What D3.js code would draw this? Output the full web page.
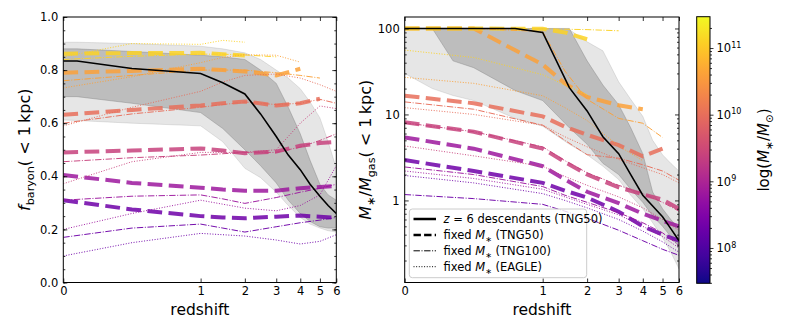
<!DOCTYPE html>
<html>
<head>
<meta charset="utf-8">
<script src="https://cdn.jsdelivr.net/npm/d3@7"></script>
<style>
body { margin: 0; background: #fff; }
text { font-family: "DejaVu Sans", sans-serif; }
</style>
</head>
<body>
<div id="chart"></div>
<script>
// DATA ***********************************************
var zTicks = [0, 1, 2, 3, 4, 5, 6];
var fbTicks = [0, 0.2, 0.4, 0.6, 0.8, 1.0];
var mgTicks = [1, 10, 100];
var cbTicks = [8, 9, 10, 11];

// log M* of the fixed-mass tracks (low to high)
var massBins = [8.3, 8.8, 9.4, 10.0, 10.6, 11.1];

// redshifts of the fixed-mass tracks
var zGrid = [0, 0.5, 1, 1.5, 2, 3, 4, 5, 6];

// f_baryon(<1kpc), one row per mass bin
var fbTNG50 = [
  [0.31, 0.275, 0.25, 0.245, 0.242, 0.248, 0.252, 0.248, 0.243],
  [0.405, 0.375, 0.357, 0.35, 0.346, 0.346, 0.355, 0.36, 0.363],
  [0.49, 0.497, 0.505, 0.497, 0.487, 0.493, 0.515, 0.525, 0.53],
  [0.632, 0.65, 0.667, 0.675, 0.682, 0.667, 0.675, 0.692, null],
  [0.79, 0.797, 0.805, 0.80, 0.795, 0.78, 0.805, null, null],
  [0.862, 0.864, 0.865, 0.86, 0.855, null, null, null, null]
];
var fbTNG100 = [
  [0.17, 0.205, 0.22, 0.205, 0.19, 0.21, 0.225, 0.235, 0.245],
  [0.31, 0.325, 0.33, 0.315, 0.298, 0.32, 0.34, 0.355, 0.37],
  [0.455, 0.47, 0.48, 0.485, 0.49, 0.49, 0.51, 0.535, 0.56],
  [0.60, 0.635, 0.66, 0.67, 0.68, 0.67, 0.675, 0.69, 0.675],
  [0.76, 0.78, 0.80, 0.80, 0.80, 0.79, 0.78, 0.77, null],
  [0.84, 0.852, 0.86, 0.86, 0.857, 0.85, null, null, null]
];
var fbEAGLE = [
  [0.10, 0.15, 0.185, 0.18, 0.175, 0.16, 0.145, 0.155, 0.18],
  [0.20, 0.26, 0.31, 0.295, 0.28, 0.27, 0.29, 0.33, 0.44],
  [0.372, 0.455, 0.49, 0.49, 0.49, 0.50, 0.60, 0.665, 0.655],
  [0.59, 0.66, 0.72, 0.755, 0.78, 0.785, 0.77, 0.745, 0.72],
  [0.733, 0.775, 0.828, 0.848, 0.858, 0.856, 0.83, null, null],
  [0.85, 0.90, 0.897, 0.912, 0.905, null, null, null, null]
];

// M*/Mgas(<1kpc), one row per mass bin
var mgTNG50 = [
  [2.95, 2.2, 1.6, 1.3, 1.08, 0.74, 0.50, 0.40, 0.34],
  [5.4, 4.0, 2.5, 1.75, 1.26, 0.93, 0.70, 0.58, 0.50],
  [8.1, 6.3, 4.0, 2.8, 2.0, 1.42, 1.18, 1.02, 0.80],
  [16.5, 13.5, 9.5, 7.2, 5.8, 4.4, 3.25, 4.0, null],
  [100, 100, 38, 23, 16, 12.8, 11.5, null, null],
  [100, 100, 99, 90, 75, null, null, null, null]
];
var mgTNG100 = [
  [1.17, 1.05, 0.9, 0.75, 0.62, 0.45, 0.34, 0.27, 0.23],
  [2.45, 2.0, 1.45, 1.15, 0.95, 0.72, 0.55, 0.42, 0.30],
  [8.0, 6.3, 4.2, 2.9, 2.1, 1.5, 1.2, 0.95, 0.75],
  [14, 11.5, 7.5, 5.0, 3.4, 3.1, 2.6, 2.2, 1.72],
  [100, 100, 92, 32, 15, 9, 7.9, 5.4, null],
  [100, 100, 99, 98, 97, 94, null, null, null]
];
var mgEAGLE = [
  [1.95, 1.6, 1.2, 1.0, 0.82, 0.6, 0.44, 0.33, 0.25],
  [2.2, 1.8, 1.35, 1.1, 0.9, 0.68, 0.5, 0.38, 0.28],
  [4.3, 3.3, 2.5, 1.9, 1.5, 1.1, 0.82, 0.6, 0.45],
  [12, 10, 7.5, 5.5, 4.2, 3.0, 2.4, 2.0, 1.6],
  [27, 23, 16.5, 12, 8.5, 4.3, 2.9, null, null],
  [56, 46, 29, 22, 17, null, null, null, null]
];

// z=6 descendants (TNG50): median and percentile bands
var fbZ = [0, 0.1, 0.5, 1, 1.5, 2, 2.5, 3, 3.5, 4, 4.5, 5, 5.5, 6];
var fbMedian  = [0.834, 0.834, 0.806, 0.787, 0.752, 0.71, 0.635, 0.55, 0.48, 0.425, 0.37, 0.325, 0.29, 0.26];
var fbOuterLo = [0.612, 0.61, 0.60, 0.59, 0.53, 0.43, 0.395, 0.34, 0.29, 0.245, 0.22, 0.205, 0.195, 0.19];
var fbOuterHi = [0.905, 0.905, 0.90, 0.89, 0.88, 0.865, 0.84, 0.80, 0.77, 0.73, 0.68, 0.62, 0.53, 0.43];
var fbInnerLo = [0.70, 0.70, 0.675, 0.64, 0.58, 0.50, 0.44, 0.375, 0.31, 0.26, 0.23, 0.21, 0.205, 0.205];
var fbInnerHi = [0.88, 0.88, 0.87, 0.856, 0.85, 0.84, 0.80, 0.75, 0.66, 0.56, 0.46, 0.37, 0.33, 0.31];

var mgZ = [0, 0.2, 0.35, 0.5, 0.8, 1, 1.6, 2, 2.5, 3, 3.5, 4, 4.5, 5, 5.5, 6];
var mgMedian  = [100, 100, 100, 100, 100, 90, 20.5, 11, 5.5, 3.5, 2.0, 1.15, 0.86, 0.645, 0.47, 0.34];
var mgOuterLo = [30, 20, 16.6, 14.5, 9, 7.3, 4.5, 3.4, 2.5, 1.75, 1.15, 0.8, 0.55, 0.37, 0.25, 0.16];
var mgOuterHi = [100, 100, 100, 100, 100, 100, 97, 70, 55, 24, 15, 9.5, 5, 3.4, 2.7, 2.2];
var mgInnerLo = [100, 100, 42, 35, 19, 14.5, 7, 4.5, 2.7, 2.0, 1.35, 0.95, 0.66, 0.5, 0.38, 0.29];
var mgInnerHi = [100, 100, 100, 100, 100, 100, 100, 42, 22, 13, 7, 3.5, 1.25, 0.8, 0.6, 0.47];

// LAYOUT ***********************************************
var width = 789, height = 333;
var plotTop = 17, plotBottom = 282.5;
var zFrac = [0, 0.503, 0.665, 0.78, 0.868, 0.94, 1]; // shape of the redshift axis

var svg = d3.select("#chart").append("svg")
        .attr("width", width)
        .attr("height", height);

var color = d3.scaleSequential(d3.interpolatePlasma).domain([7.47, 11.47]);

var simStyles = [
        {data: "TNG50", width: 4, dash: "14.8,6.4", opacity: 0.85},
        {data: "TNG100", width: 1, dash: "6.4,1.6,1,1.6", opacity: 0.95},
        {data: "EAGLE", width: 1, dash: "1,1.65", opacity: 0.95}
];

function zScale(x0, x1) {
        return d3.scaleLinear().domain(zTicks).range(zFrac.map(function (f) {
                return x0 + f * (x1 - x0);
        }));
}

var xL = zScale(63.3, 336.3);
var yL = d3.scaleLinear().domain([0, 1]).range([plotBottom, plotTop]);
var xR = zScale(404.7, 679);
var yR = d3.scaleLog().domain([0.111, 136]).range([plotBottom, plotTop]);

drawPanel("left", xL, yL, [fbTNG50, fbTNG100, fbEAGLE],
        {z: fbZ, med: fbMedian, oLo: fbOuterLo, oHi: fbOuterHi, iLo: fbInnerLo, iHi: fbInnerHi});
drawPanel("right", xR, yR, [mgTNG50, mgTNG100, mgEAGLE],
        {z: mgZ, med: mgMedian, oLo: mgOuterLo, oHi: mgOuterHi, iLo: mgInnerLo, iHi: mgInnerHi});

// left axes
drawFrame(xL, yL, fbTicks, d3.range(0, 1.0001, 0.05), d3.format(".1f"));
// right axes
var mgMinor = [];
[0.1, 1, 10, 100].forEach(function (dec) {
        for (var k = 2; k <= 9; k++) {
                var v = k * dec;
                if (v > 0.111 && v < 136) mgMinor.push(v);
        }
});
drawFrame(xR, yR, mgTicks, mgMinor, d3.format("d"));

yLabel(30, [["f", "italic"], ["baryon", "sub"], ["( < 1\u2009kpc)", ""]]);
yLabel(371, [["M", "italic"], ["\u2217", "sub"], ["/", ""], ["M", "italic"], ["gas", "sub"], ["( < 1\u2009kpc)", ""]]);

svg.append("text").attr("x", (xL.range()[0] + xL.range()[6]) / 2).attr("y", 315)
        .attr("text-anchor", "middle").attr("font-size", 15.5).text("redshift");
svg.append("text").attr("x", (xR.range()[0] + xR.range()[6]) / 2).attr("y", 315)
        .attr("text-anchor", "middle").attr("font-size", 15.5).text("redshift");

drawLegend();
drawColorbar();

// FUNCTIONS ***********************************************

function drawPanel(name, x, y, sims, med) {
        var x0 = x.range()[0], x1 = x.range()[6];
        var clipId = "clip-" + name;
        svg.append("clipPath").attr("id", clipId)
                .append("rect")
                .attr("x", x0).attr("y", plotTop)
                .attr("width", x1 - x0).attr("height", plotBottom - plotTop);

        var g = svg.append("g").attr("clip-path", "url(#" + clipId + ")");

        var band = function (lo, hi) {
                return d3.area()
                        .x(function (d, i) { return x(med.z[i]); })
                        .y0(function (d, i) { return y(lo[i]); })
                        .y1(function (d, i) { return y(hi[i]); })(med.z);
        };
        g.append("path").attr("d", band(med.oLo, med.oHi))
                .attr("fill", "#808080").attr("fill-opacity", 0.2)
                .attr("stroke", "#808080").attr("stroke-opacity", 0.2).attr("stroke-width", 1);
        g.append("path").attr("d", band(med.iLo, med.iHi))
                .attr("fill", "#808080").attr("fill-opacity", 0.4)
                .attr("stroke", "#808080").attr("stroke-opacity", 0.4).attr("stroke-width", 1);

        var line = d3.line()
                .defined(function (d) { return d[1] != null; })
                .x(function (d) { return x(d[0]); })
                .y(function (d) { return y(d[1]); });

        sims.forEach(function (rows, s) {
                var st = simStyles[s];
                rows.forEach(function (row, m) {
                        g.append("path")
                                .attr("d", line(row.map(function (v, i) { return [zGrid[i], v]; })))
                                .attr("fill", "none")
                                .attr("stroke", color(massBins[m]))
                                .attr("stroke-width", st.width)
                                .attr("stroke-dasharray", st.dash)
                                .attr("stroke-opacity", st.opacity);
                });
        });

        g.append("path")
                .attr("d", line(med.med.map(function (v, i) { return [med.z[i], v]; })))
                .attr("fill", "none")
                .attr("stroke", "black")
                .attr("stroke-width", 1.6);
}

function styleAxis(sel) {
        sel.select(".domain").remove();
        sel.selectAll(".tick line").attr("stroke", "black").attr("stroke-width", 0.8);
        sel.selectAll(".tick text").attr("fill", "black")
                .attr("font-family", "DejaVu Sans").attr("font-size", 11.5);
}

function drawFrame(x, y, yMajor, yMinor, yFmt) {
        var x0 = x.range()[0], x1 = x.range()[6];
        var g = svg.append("g");

        g.append("g").attr("transform", "translate(0," + plotBottom + ")")
                .call(d3.axisBottom(x).tickValues(zTicks).tickSize(-4).tickPadding(4.5).tickFormat(d3.format("d")))
                .call(styleAxis);
        g.append("g").attr("transform", "translate(0," + plotTop + ")")
                .call(d3.axisTop(x).tickValues(zTicks).tickSize(-4).tickFormat(""))
                .call(styleAxis);

        g.append("g").attr("transform", "translate(" + x0 + ",0)")
                .call(d3.axisLeft(y).tickValues(yMinor).tickSize(-2).tickFormat(""))
                .call(styleAxis);
        g.append("g").attr("transform", "translate(" + x1 + ",0)")
                .call(d3.axisRight(y).tickValues(yMinor).tickSize(-2).tickFormat(""))
                .call(styleAxis);
        g.append("g").attr("transform", "translate(" + x0 + ",0)")
                .call(d3.axisLeft(y).tickValues(yMajor).tickSize(-4).tickPadding(5).tickFormat(yFmt))
                .call(styleAxis);
        g.append("g").attr("transform", "translate(" + x1 + ",0)")
                .call(d3.axisRight(y).tickValues(yMajor).tickSize(-4).tickFormat(""))
                .call(styleAxis);

        g.append("rect")
                .attr("x", x0).attr("y", plotTop)
                .attr("width", x1 - x0).attr("height", plotBottom - plotTop)
                .attr("fill", "none").attr("stroke", "black").attr("stroke-width", 1);
}

// parts: [text, style] with style "", "italic" or "sub"
function richText(t, parts, size) {
        var shift = 0;
        parts.forEach(function (p) {
                var sp = t.append("tspan").text(p[0]);
                var want = 0;
                if (p[1] == "italic") sp.attr("font-style", "italic");
                if (p[1] == "sub") {
                        sp.attr("font-size", size * 0.7);
                        want = size * 0.28;
                }
                if (want != shift) sp.attr("dy", want - shift);
                shift = want;
        });
}

function yLabel(x, parts) {
        var t = svg.append("text")
                .attr("transform", "translate(" + x + "," + (plotTop + plotBottom) / 2 + ") rotate(-90)")
                .attr("text-anchor", "middle")
                .attr("font-size", 16);
        richText(t, parts, 16);
}

function drawLegend() {
        var g = svg.append("g");
        g.append("rect")
                .attr("x", 409.3).attr("y", 209)
                .attr("width", 177.4).attr("height", 68.7)
                .attr("rx", 3)
                .attr("fill", "white").attr("fill-opacity", 0.8)
                .attr("stroke", "#cccccc").attr("stroke-width", 1);

        var rows = [
                {dash: null, w: 2.5, parts: [["z", "italic"], [" = 6 descendants (TNG50)", ""]]},
                {dash: "7.4,3.2", w: 2.5, parts: [["fixed ", ""], ["M", "italic"], ["\u2217", "sub"], [" (TNG50)", ""]]},
                {dash: "6.4,1.6,1,1.6", w: 1, parts: [["fixed ", ""], ["M", "italic"], ["\u2217", "sub"], [" (TNG100)", ""]]},
                {dash: "1,1.65", w: 1, parts: [["fixed ", ""], ["M", "italic"], ["\u2217", "sub"], [" (EAGLE)", ""]]}
        ];
        var rowY = d3.scaleLinear().domain([0, 3]).range([219, 266.7]);
        rows.forEach(function (r, i) {
                var ly = rowY(i);
                g.append("line")
                        .attr("x1", 413.5).attr("x2", 436).attr("y1", ly).attr("y2", ly)
                        .attr("stroke", "black").attr("stroke-width", r.w)
                        .attr("stroke-dasharray", r.dash);
                var t = g.append("text").attr("x", 443.5).attr("y", ly + 4).attr("font-size", 11.5);
                richText(t, r.parts, 11.5);
        });
}

function drawColorbar() {
        var cx0 = 696.7, cx1 = 710, cTop = 16.7, cBot = 283.3;
        var cb = d3.scaleLinear().domain([7.47, 11.47]).range([cBot, cTop]);

        var grad = svg.append("defs").append("linearGradient")
                .attr("id", "plasma").attr("x1", 0).attr("y1", 1).attr("x2", 0).attr("y2", 0);
        d3.range(0, 1.0001, 0.05).forEach(function (f) {
                grad.append("stop").attr("offset", f).attr("stop-color", d3.interpolatePlasma(f));
        });
        svg.append("rect")
                .attr("x", cx0).attr("y", cTop)
                .attr("width", cx1 - cx0).attr("height", cBot - cTop)
                .attr("fill", "url(#plasma)");

        var minor = [];
        [7, 8, 9, 10, 11].forEach(function (e) {
                for (var k = 2; k <= 9; k++) {
                        var v = e + Math.log10(k);
                        if (v > 7.47 && v < 11.47) minor.push(v);
                }
        });
        svg.append("g").attr("transform", "translate(" + cx1 + ",0)")
                .call(d3.axisRight(cb).tickValues(minor).tickSize(2).tickFormat(""))
                .call(styleAxis);
        var ax = svg.append("g").attr("transform", "translate(" + cx1 + ",0)")
                .call(d3.axisRight(cb).tickValues(cbTicks).tickSize(3.5).tickPadding(3).tickFormat(""))
                .call(styleAxis);
        ax.selectAll(".tick text").each(function (d) {
                var t = d3.select(this).attr("dy", "0.32em");
                t.append("tspan").text("10");
                t.append("tspan").text(d).attr("font-size", 8).attr("dy", -4.5);
        });

        svg.append("rect")
                .attr("x", cx0).attr("y", cTop)
                .attr("width", cx1 - cx0).attr("height", cBot - cTop)
                .attr("fill", "none").attr("stroke", "black").attr("stroke-width", 1);

        var t = svg.append("text")
                .attr("transform", "translate(769," + (cTop + cBot) / 2 + ") rotate(-90)")
                .attr("text-anchor", "middle")
                .attr("font-size", 15);
        richText(t, [["log(", ""], ["M", "italic"], ["\u2217", "sub"], ["/", ""], ["M", "italic"], ["\u2299", "sub"], [")", ""]], 15);
}
</script>
</body>
</html>
